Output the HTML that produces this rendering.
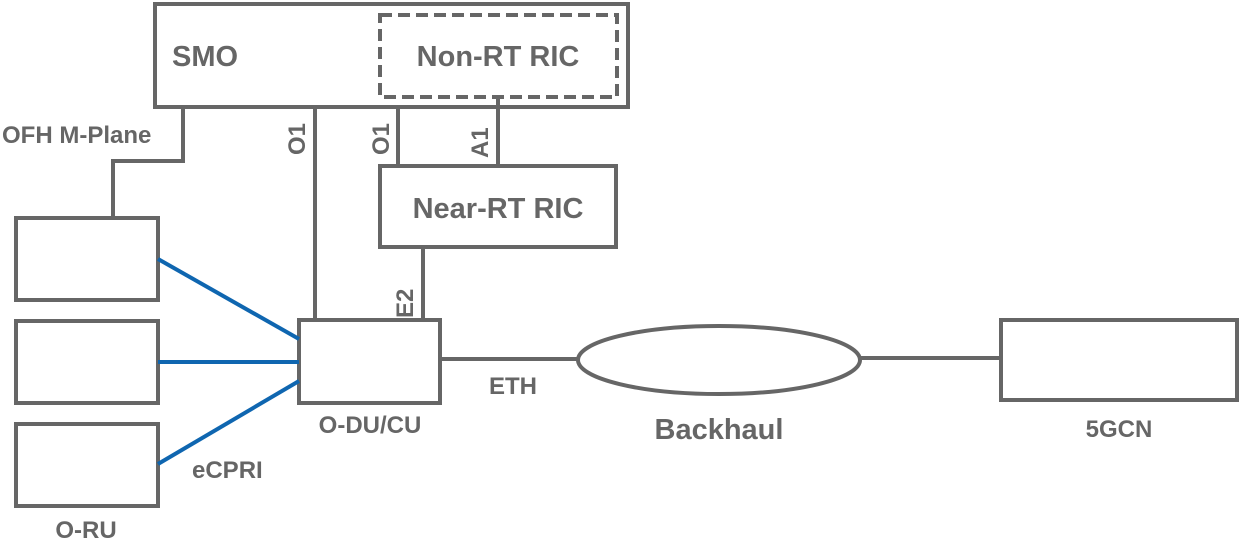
<!DOCTYPE html>
<html><head><meta charset="utf-8"><style>
html,body{margin:0;padding:0;background:#fff;width:1241px;height:540px;overflow:hidden}
svg{display:block}
text{font-family:"Liberation Sans",Arial,sans-serif;font-weight:bold;fill:#666}
</style></head><body>
<svg width="1241" height="540" viewBox="0 0 1241 540" xmlns="http://www.w3.org/2000/svg">
<g fill="none" stroke="#666" stroke-width="4">
<rect x="155" y="4" width="473" height="103"/>
<rect x="380" y="15" width="237" height="82" stroke-dasharray="12,6"/>
<polyline points="183,107 183,161 113,161 113,218"/>
<line x1="315" y1="107" x2="315" y2="320"/>
<line x1="398" y1="107" x2="398" y2="166"/>
<line x1="498" y1="97" x2="498" y2="166"/>
<rect x="380" y="166" width="236" height="81"/>
<line x1="423" y1="247" x2="423" y2="320"/>
<rect x="16" y="218" width="142" height="82"/>
<rect x="16" y="321" width="142" height="82"/>
<rect x="16" y="424" width="142" height="82"/>
<rect x="299" y="320" width="141" height="83"/>
<line x1="440" y1="359" x2="578" y2="359"/>
<ellipse cx="719" cy="360" rx="141" ry="34"/>
<line x1="860" y1="358" x2="1001" y2="358"/>
<rect x="1001" y="320" width="236" height="80"/>
</g>
<g stroke="#0f66b0" stroke-width="4">
<line x1="158" y1="259" x2="299" y2="339"/>
<line x1="158" y1="362" x2="299" y2="362"/>
<line x1="158" y1="464" x2="299" y2="381"/>
</g>
<text x="172" y="66" font-size="29">SMO</text>
<text x="498" y="66" font-size="29" text-anchor="middle">Non-RT RIC</text>
<text x="498" y="218" font-size="29" text-anchor="middle">Near-RT RIC</text>
<text x="2" y="143" font-size="24">OFH M-Plane</text>
<text transform="translate(305,155) rotate(-90)" font-size="24">O1</text>
<text transform="translate(389,155) rotate(-90)" font-size="24">O1</text>
<text transform="translate(488,158) rotate(-90)" font-size="24">A1</text>
<text transform="translate(413,318) rotate(-90)" font-size="24">E2</text>
<text x="370" y="433" font-size="24" text-anchor="middle">O-DU/CU</text>
<text x="192" y="478" font-size="24">eCPRI</text>
<text x="86" y="538" font-size="24" text-anchor="middle">O-RU</text>
<text x="489" y="394" font-size="24">ETH</text>
<text x="719" y="439" font-size="29" text-anchor="middle">Backhaul</text>
<text x="1119" y="437" font-size="24" text-anchor="middle">5GCN</text>
</svg>
</body></html>
